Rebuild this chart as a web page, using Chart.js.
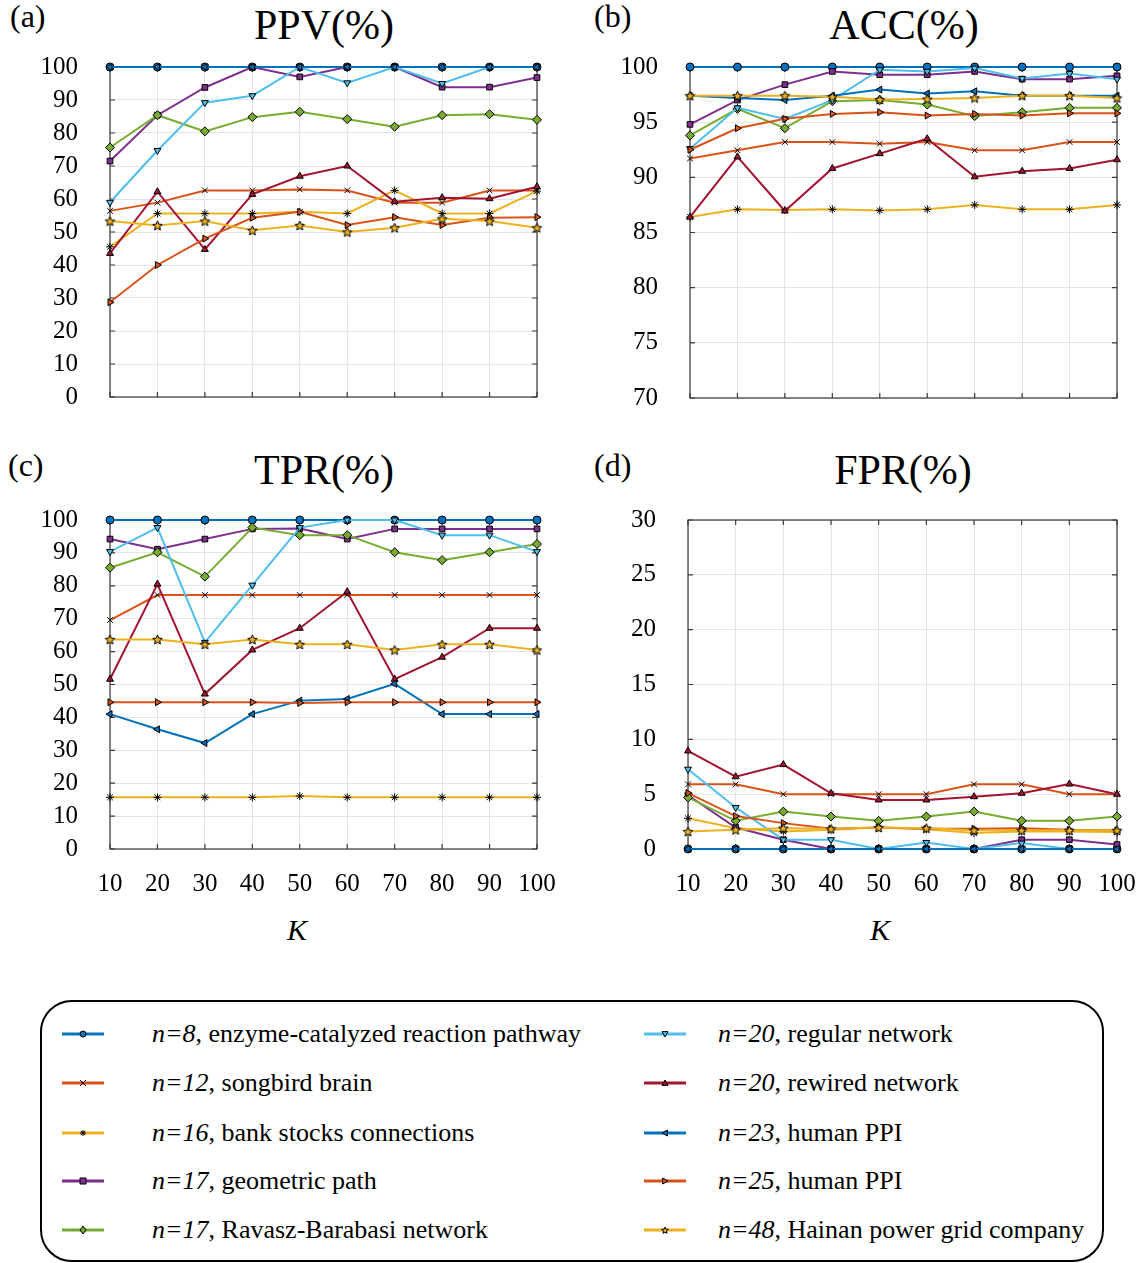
<!DOCTYPE html>
<html>
<head>
<meta charset="utf-8">
<script src="https://cdn.jsdelivr.net/npm/chart.js@4.4.0/dist/chart.umd.min.js"></script>
<style>
body { margin: 0; background: #fff; width: 1139px; height: 1263px; position: relative; overflow: hidden;
       font-family: 'Liberation Serif', 'Times New Roman', serif; color: #000; }
.t { position: absolute; white-space: nowrap; line-height: 1; }
.title { font-size: 42px; width: 400px; text-align: center; }
.tag { font-size: 32px; }
.klab { font-size: 30px; font-style: italic; width: 60px; text-align: center; }
#legend { position: absolute; left: 40px; top: 1000px; width: 1064px; height: 262px;
          border: 2.5px solid #000; border-radius: 32px; box-sizing: border-box; }
.row { position: absolute; font-size: 26px; line-height: 1; white-space: nowrap; }
</style>
</head>
<body>
<div class="t tag" style="left:10px;top:0px">(a)</div>
<div class="t tag" style="left:594px;top:0px">(b)</div>
<div class="t tag" style="left:8px;top:449px">(c)</div>
<div class="t tag" style="left:594px;top:449px">(d)</div>
<div class="t title" style="left:124px;top:4px">PPV(%)</div>
<div class="t title" style="left:704px;top:4px">ACC(%)</div>
<div class="t title" style="left:124px;top:449px">TPR(%)</div>
<div class="t title" style="left:703px;top:449px">FPR(%)</div>
<div class="t klab" style="left:267px;top:915px">K</div>
<div class="t klab" style="left:850px;top:915px">K</div>
<div id="legend"></div>

<script>
// x values
const K = [10, 20, 30, 40, 50, 60, 70, 80, 90, 100];

// legend: italic part + plain part
const seriesN = ['n=8', 'n=12', 'n=16', 'n=17', 'n=17', 'n=20', 'n=20', 'n=23', 'n=25', 'n=48'];
const seriesDesc = [', enzyme-catalyzed reaction pathway', ', songbird brain', ', bank stocks connections',
  ', geometric path', ', Ravasz-Barabasi network', ', regular network', ', rewired network',
  ', human PPI', ', human PPI', ', Hainan power grid company'];

// one row per series, same order as the legend
const PPV = [
  [100, 100, 100, 100, 100, 100, 100, 100, 100, 100],
  [56.4, 58.9, 62.6, 62.6, 62.9, 62.6, 58.9, 58.9, 62.6, 62.6],
  [45.5, 55.6, 55.6, 55.6, 56.1, 55.6, 62.6, 55.6, 55.6, 62.4],
  [71.5, 85.4, 93.8, 100, 97, 100, 100, 93.9, 93.9, 96.8],
  [75.6, 85.4, 80.5, 84.8, 86.4, 84.2, 81.9, 85.4, 85.7, 84],
  [59, 74.7, 89.2, 91.3, 100, 95.2, 100, 95, 100, 100],
  [43.5, 62.2, 44.7, 61.4, 66.9, 70, 59.2, 60.4, 60.1, 63.7],
  [100, 100, 100, 100, 100, 100, 100, 100, 100, 100],
  [28.7, 40, 48, 54.3, 56.1, 52.1, 54.5, 52.1, 54.3, 54.5],
  [53.3, 52, 53.3, 50.5, 52, 50, 51.3, 54, 53.3, 51.3]
];
const ACC = [
  [100, 100, 100, 100, 100, 100, 100, 100, 100, 100],
  [91.7, 92.45, 93.2, 93.2, 93.05, 93.2, 92.45, 92.45, 93.2, 93.2],
  [86.4, 87.1, 87.05, 87.1, 87.0, 87.1, 87.5, 87.1, 87.1, 87.5],
  [94.8, 97.0, 98.4, 99.6, 99.3, 99.3, 99.6, 98.9, 98.9, 99.2],
  [93.8, 96.2, 94.45, 96.9, 97.0, 96.6, 95.55, 95.9, 96.3, 96.3],
  [92.6, 96.3, 95.3, 97.0, 99.75, 99.6, 99.9, 98.95, 99.4, 98.9],
  [86.4, 91.85, 86.95, 90.8, 92.15, 93.5, 90.05, 90.55, 90.8, 91.6],
  [97.4, 97.2, 97.0, 97.4, 97.95, 97.6, 97.8, 97.4, 97.4, 97.4],
  [92.5, 94.45, 95.3, 95.75, 95.9, 95.6, 95.75, 95.6, 95.8, 95.8],
  [97.4, 97.4, 97.4, 97.3, 97.05, 97.1, 97.2, 97.4, 97.4, 97.2]
];
const TPR = [
  [100, 100, 100, 100, 100, 100, 100, 100, 100, 100],
  [69.6, 77.2, 77.2, 77.2, 77.2, 77.2, 77.2, 77.2, 77.2, 77.2],
  [15.7, 15.7, 15.7, 15.7, 16.1, 15.7, 15.7, 15.7, 15.7, 15.7],
  [94.2, 91.1, 94.2, 97.3, 97.4, 94.2, 97.3, 97.3, 97.3, 97.3],
  [85.5, 90.2, 82.8, 97.7, 95.4, 95.4, 90.2, 87.8, 90.2, 92.7],
  [90.4, 97.7, 62.8, 80.2, 97.7, 100, 100, 95.4, 95.4, 90.4],
  [51.6, 80.5, 47.1, 60.5, 67.1, 78.2, 51.6, 58.3, 67.1, 67.1],
  [41.0, 36.4, 32.2, 41.0, 45.1, 45.6, 50.2, 41.0, 41.0, 41.0],
  [44.6, 44.6, 44.6, 44.6, 44.4, 44.6, 44.6, 44.6, 44.6, 44.6],
  [63.7, 63.7, 62.2, 63.7, 62.2, 62.2, 60.5, 62.2, 62.2, 60.5]
];
const FPR = [
  [0, 0, 0, 0, 0, 0, 0, 0, 0, 0],
  [5.9, 5.9, 5.0, 5.0, 5.0, 5.0, 5.9, 5.9, 5.0, 5.0],
  [2.8, 1.9, 1.6, 1.75, 1.96, 1.8, 1.45, 1.6, 1.6, 1.54],
  [4.9, 1.96, 0.85, 0, 0, 0, 0, 0.85, 0.85, 0.4],
  [4.7, 2.57, 3.41, 2.96, 2.57, 2.96, 3.41, 2.57, 2.57, 2.96],
  [7.28, 3.78, 0.85, 0.85, 0, 0.6, 0, 0.54, 0, 0],
  [8.94, 6.59, 7.7, 5.08, 4.47, 4.47, 4.77, 5.08, 5.92, 5.0],
  [0, 0, 0, 0, 0, 0, 0, 0, 0, 0],
  [5.1, 3.0, 2.36, 1.84, 1.96, 1.84, 1.84, 1.9, 1.75, 1.7],
  [1.6, 1.75, 1.9, 1.84, 1.96, 1.9, 1.7, 1.7, 1.7, 1.7]
];

const colors = ['#0072BD', '#D95319', '#EDB120', '#7E2F8E', '#77AC30',
                '#4DBEEE', '#A2142F', '#0072BD', '#D95319', '#EDB120'];
const markers = ['circle', 'crossRot', 'star', 'rect', 'rectRot',
                 'triangle', 'triangle', 'triangle', 'triangle', 'pentagram'];
const rotations = [0, 0, 0, 0, 0, 180, 0, 270, 90, 0];

const FONT = "'Liberation Serif', 'Times New Roman', serif";
Chart.defaults.font.family = FONT;

function starImg(color, r) {
  const c = document.createElement('canvas');
  const s = Math.ceil(r * 2 + 3);
  c.width = s; c.height = s;
  const g = c.getContext('2d');
  g.beginPath();
  for (let k = 0; k < 10; k++) {
    const rr = k % 2 ? r * 0.45 : r;
    const a = -Math.PI / 2 + k * Math.PI / 5;
    g.lineTo(s / 2 + rr * Math.cos(a), s / 2 + 0.5 + rr * Math.sin(a));
  }
  g.closePath();
  g.fillStyle = color; g.fill();
  g.strokeStyle = '#000'; g.lineWidth = 1; g.stroke();
  return c;
}

// frame + inward tick marks like the matlab box
const boxPlugin = {
  id: 'box',
  beforeDatasetsDraw(chart) {
    const a = chart.chartArea, g = chart.ctx;
    g.save();
    g.strokeStyle = '#3a3a3a';
    g.lineWidth = 1.2;
    g.strokeRect(a.left, a.top, a.right - a.left, a.bottom - a.top);
    const ys = chart.scales.y, xs = chart.scales.x;
    g.beginPath();
    ys.ticks.forEach(t => {
      const p = ys.getPixelForValue(t.value);
      g.moveTo(a.left, p); g.lineTo(a.left + 5, p);
      g.moveTo(a.right, p); g.lineTo(a.right - 5, p);
    });
    xs.ticks.forEach(t => {
      const p = xs.getPixelForValue(t.value);
      g.moveTo(p, a.bottom); g.lineTo(p, a.bottom - 5);
      g.moveTo(p, a.top); g.lineTo(p, a.top + 5);
    });
    g.stroke();
    g.restore();
  }
};

function makePanel(area, rows, yMin, yMax, yStep, showX) {
  const padL = 80, padT = 15, padR = 20, bottom = showX ? 60 : 15;
  const w = area.r - area.l + padL + padR;
  const h = area.b - area.t + padT + bottom;
  const cv = document.createElement('canvas');
  cv.width = w; cv.height = h;
  cv.style.cssText = `position:absolute;left:${area.l - padL}px;top:${area.t - padT}px;width:${w}px;height:${h}px`;
  document.body.appendChild(cv);

  const datasets = rows.map((vals, i) => ({
    label: seriesN[i],
    data: K.map((k, j) => ({ x: k, y: vals[j] })),
    borderColor: colors[i],
    borderWidth: 2,
    pointStyle: markers[i] === 'pentagram' ? starImg(colors[i], 5) : markers[i],
    pointRotation: rotations[i],
    pointRadius: markers[i] === 'rectRot' ? 4.5 : 4,
    pointBorderColor: '#000',
    pointBorderWidth: 1,
    pointBackgroundColor: colors[i],
    tension: 0,
    clip: false,
    order: 10 - i
  }));

  new Chart(cv, {
    type: 'line',
    data: { datasets },
    options: {
      responsive: false,
      animation: false,
      layout: { padding: { left: 0, top: padT, right: padR, bottom: 0 } },
      plugins: { legend: { display: false }, tooltip: { enabled: false } },
      scales: {
        x: {
          type: 'linear', min: 10, max: 100,
          afterFit(s) { s.height = bottom; s.paddingLeft = 0; s.paddingRight = 0; },
          grid: { color: '#e4e4e4', drawTicks: false },
          border: { display: false },
          ticks: { display: showX, stepSize: 10, padding: 20, color: '#000', maxRotation: 0, autoSkip: false,
                   font: { family: FONT, size: 25 } }
        },
        y: {
          min: yMin, max: yMax,
          afterFit(s) { s.width = padL; s.paddingTop = 0; s.paddingBottom = 0; },
          grid: { color: '#e4e4e4', drawTicks: false },
          border: { display: false },
          ticks: { stepSize: yStep, padding: 32, color: '#000', autoSkip: false,
                   font: { family: FONT, size: 25 } }
        }
      }
    },
    plugins: [boxPlugin]
  });
}

// legend swatches
function drawMark(g, i, x, y, r) {
  g.save();
  g.translate(x, y);
  g.rotate(rotations[i] * Math.PI / 180);
  g.fillStyle = colors[i];
  g.strokeStyle = '#000';
  g.lineWidth = 1;
  g.beginPath();
  const m = markers[i];
  if (m === 'circle') { g.arc(0, 0, r, 0, Math.PI * 2); g.fill(); g.stroke(); }
  else if (m === 'rect') { g.rect(-r, -r, 2 * r, 2 * r); g.fill(); g.stroke(); }
  else if (m === 'rectRot') { g.moveTo(0, -r - 1); g.lineTo(r, 0); g.lineTo(0, r + 1); g.lineTo(-r, 0); g.closePath(); g.fill(); g.stroke(); }
  else if (m === 'triangle') { g.moveTo(0, -r); g.lineTo(r, r * 0.8); g.lineTo(-r, r * 0.8); g.closePath(); g.fill(); g.stroke(); }
  else if (m === 'crossRot') { g.moveTo(-r, -r); g.lineTo(r, r); g.moveTo(r, -r); g.lineTo(-r, r); g.stroke(); }
  else if (m === 'star') {
    for (let k = 0; k < 4; k++) { const a = k * Math.PI / 4; g.moveTo(-r * Math.cos(a), -r * Math.sin(a)); g.lineTo(r * Math.cos(a), r * Math.sin(a)); }
    g.stroke();
  } else {
    g.restore();
    const im = starImg(colors[i], r + 0.5);
    g.drawImage(im, x - im.width / 2, y - im.height / 2);
    return;
  }
  g.restore();
}

const rowY = [1034, 1083, 1133, 1181, 1230];
seriesN.forEach((n, i) => {
  const col = i < 5 ? 0 : 1;
  const cy = rowY[i % 5];
  const lineX = col ? 644 : 62;
  const textX = col ? 718 : 152;
  const sw = document.createElement('canvas');
  sw.width = 42; sw.height = 14;
  sw.style.cssText = `position:absolute;left:${lineX}px;top:${cy - 7}px;width:42px;height:14px`;
  const g = sw.getContext('2d');
  g.strokeStyle = colors[i]; g.lineWidth = 3;
  g.beginPath(); g.moveTo(0, 7); g.lineTo(42, 7); g.stroke();
  drawMark(g, i, 21, 7, 3);
  document.body.appendChild(sw);
  const d = document.createElement('div');
  d.className = 'row';
  d.style.left = textX + 'px';
  d.style.top = (cy - 13) + 'px';
  d.innerHTML = '<i>' + n + '</i>' + seriesDesc[i];
  document.body.appendChild(d);
});

function drawAll() {
  makePanel({ l: 110, t: 67, r: 537, b: 397 }, PPV, 0, 100, 10, false);
  makePanel({ l: 690, t: 67, r: 1117, b: 398 }, ACC, 70, 100, 5, false);
  makePanel({ l: 110, t: 520, r: 537, b: 849 }, TPR, 0, 100, 10, true);
  makePanel({ l: 688, t: 520, r: 1117, b: 849 }, FPR, 0, 30, 5, true);
}

// make sure the serif face is ready before the canvases draw text
if (document.fonts && document.fonts.load) {
  document.fonts.load("25px 'Liberation Serif'").then(drawAll, drawAll);
} else {
  drawAll();
}
</script>
</body>
</html>
